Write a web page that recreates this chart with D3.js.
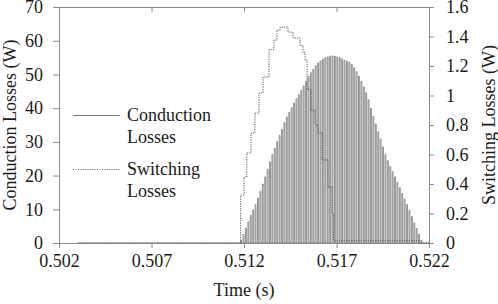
<!DOCTYPE html>
<html><head><meta charset="utf-8">
<script src="https://cdn.jsdelivr.net/npm/d3@7"></script>
<style>
html,body{margin:0;padding:0;background:#fff;}
text{font-family:"Liberation Serif","Times New Roman",serif;}
</style></head>
<body><svg id="c" width="498" height="304"></svg>
<script>
// ---- data ----
const xTicks = [0.502, 0.507, 0.512, 0.517, 0.522];
const yLeftTicks = [0, 10, 20, 30, 40, 50, 60, 70];
const yRightTicks = [0, 0.2, 0.4, 0.6, 0.8, 1, 1.2, 1.4, 1.6];
const seriesNames = ["Conduction", "Losses", "Switching", "Losses"];
const tStart = 0.503, tEnd = 0.522;
const pwmStart = 0.51182, pwmPeriod = 0.00013, pwmOn = 0.00005;
// conduction loss pulse heights (W), one per switching period
const conductionPeaks = [0.8,2.6,4.4,6.3,8.2,9.8,11.4,13.3,15.3,17.5,19.6,21.9,24.1,26.2,28.1,30.1,31.9,33.7,35.7,37.4,
 38.8,40.2,41.5,42.8,44.0,45.3,46.6,48.0,49.5,50.5,51.5,52.6,53.4,54.0,54.5,55.0,55.2,55.4,55.5,55.4,
 55.2,55.0,54.6,54.2,53.9,53.6,53.0,52.0,50.8,49.5,48.0,46.3,44.6,42.5,40.0,37.6,35.3,33.0,30.9,28.5,
 26.3,24.4,22.7,21.2,19.6,18.0,16.4,14.7,13.0,11.4,9.7,7.9,6.0,4.3,2.6,0.8];
// switching losses (W): step times and values
const switchT = [0.503,0.51182,0.512,0.51215,0.51238,0.51259,0.51281,0.51303,0.51335,0.51362,0.51378,0.51395,
 0.51438,0.51465,0.51503,0.51519,0.5153,0.51541,0.51562,0.51584,0.5160,0.51622,0.51654,0.51676,0.51684,0.5215,0.522];
const switchV = [0,0.325,0.447,0.61,0.746,0.88,1.017,1.125,1.31,1.376,1.444,1.464,
 1.43,1.39,1.34,1.29,1.24,1.04,0.9,0.8,0.746,0.563,0.38,0.2,0.015,0,0];

// ---- layout ----
const L = 59, R = 429, T = 7, B = 243;
const svg = d3.select("#c");
const x = d3.scaleLinear().domain([0.502, 0.522]).range([L, R]);
const yL = d3.scaleLinear().domain([0, 70]).range([B, T]);
const yR = d3.scaleLinear().domain([0, 1.6]).range([B, T]);
const axisCol = "#8a8a8a", txtCol = "#1a1a1a", fs = 18;

// conduction path
const condPts = [[tStart, 0]];
conductionPeaks.forEach((v, k) => {
  const t = pwmStart + k * pwmPeriod;
  condPts.push([t, 0], [t, v], [t + pwmOn, v], [t + pwmOn, 0]);
});
condPts.push([tEnd, 0]);
svg.append("path")
  .attr("d", d3.line().x(d => x(d[0])).y(d => yL(d[1]))(condPts))
  .attr("fill", "none").attr("stroke", "#6a6a6a").attr("stroke-width", 0.7);

// switching path
const swPts = switchT.map((t, i) => [t, switchV[i]]);
svg.append("path")
  .attr("d", d3.line().x(d => x(d[0])).y(d => yR(d[1])).curve(d3.curveStepAfter)(swPts))
  .attr("fill", "none").attr("stroke", "#555").attr("stroke-width", 1).attr("stroke-dasharray", "1.2,1.2");

// axes
function style(g) {
  g.selectAll("path,line").attr("stroke", axisCol);
  g.selectAll("text").attr("fill", txtCol).style("font-size", fs + "px").style("font-family", '"Liberation Serif",serif');
}
svg.append("g").attr("transform", `translate(0,${B})`)
  .call(d3.axisBottom(x).tickValues(xTicks).tickFormat(d3.format(".3f")).tickSize(5).tickSizeOuter(0).tickPadding(6))
  .call(style);
svg.append("g").attr("transform", `translate(0,${T})`)
  .call(d3.axisBottom(x).tickValues(xTicks).tickFormat("").tickSize(5).tickSizeOuter(0))
  .call(style);
svg.append("g").attr("transform", `translate(${L},0)`)
  .call(d3.axisLeft(yL).tickValues(yLeftTicks).tickSize(6).tickSizeOuter(0).tickPadding(10))
  .call(style);
svg.append("g").attr("transform", `translate(${R},0)`)
  .call(d3.axisRight(yR).tickValues(yRightTicks).tickFormat(d => String(+d.toFixed(1))).tickSize(5).tickSizeOuter(0).tickPadding(12))
  .call(style);

// titles
svg.append("text").attr("x", (L + R) / 2).attr("y", 296).attr("text-anchor", "middle")
  .attr("fill", txtCol).style("font-size", fs + "px").text("Time (s)");
svg.append("text").attr("transform", `translate(16,${(T + B) / 2}) rotate(-90)`).attr("text-anchor", "middle")
  .attr("fill", txtCol).style("font-size", fs + "px").text("Conduction Losses (W)");
svg.append("text").attr("transform", `translate(495,${(T + B) / 2}) rotate(-90)`).attr("text-anchor", "middle")
  .attr("fill", txtCol).style("font-size", fs + "px").text("Switching Losses (W)");

// legend
const lg = svg.append("g");
lg.append("line").attr("x1", 73).attr("x2", 120).attr("y1", 115.5).attr("y2", 115.5).attr("stroke", "#777").attr("stroke-width", 1);
lg.append("line").attr("x1", 73).attr("x2", 120).attr("y1", 169.5).attr("y2", 169.5).attr("stroke", "#777").attr("stroke-width", 1).attr("stroke-dasharray", "1.2,1.2");
[[121, seriesNames[0]], [143, seriesNames[1]], [175, seriesNames[2]], [197, seriesNames[3]]].forEach(([yy, s]) => {
  lg.append("text").attr("x", 127).attr("y", yy).attr("fill", txtCol).style("font-size", fs + "px").text(s);
});
</script></body></html>
